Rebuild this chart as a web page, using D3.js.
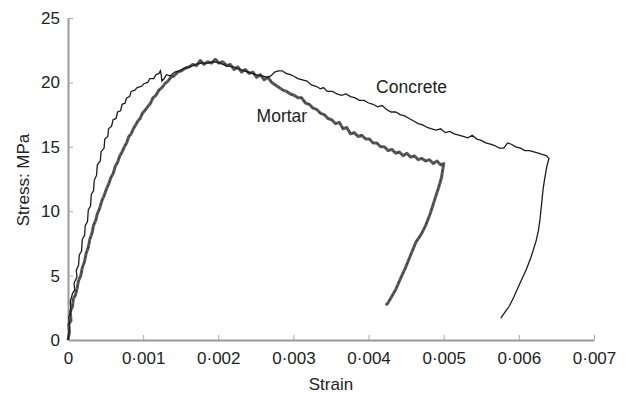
<!DOCTYPE html>
<html>
<head>
<meta charset="utf-8">
<script src="https://cdn.jsdelivr.net/npm/d3@7/dist/d3.min.js"></script>
<style>
  html, body { margin: 0; padding: 0; background: #fff; }
  svg text { font-family: "Liberation Sans", Arial, sans-serif; fill: #222; }
</style>
</head>
<body>
<svg id="chart" width="629" height="396"></svg>
<script>
// Stress–strain curves for concrete and mortar, [strain, stress (MPa)]
const concrete = [
  [0,0],[0.00002,1.0],[0.00001,1.8],[0.00004,2.2],[0.00003,3.0],[0.00006,3.6],[0.00009,3.9],
  [0.00008,4.4],[0.00012,4.9],[0.00011,5.4],[0.00014,5.8],[0.00015,6.6],[0.00018,6.9],
  [0.00019,7.8],[0.00022,8.1],[0.00023,8.9],[0.00026,9.2],[0.00027,10.1],[0.00030,10.4],
  [0.00031,11.3],[0.00034,11.6],[0.00035,12.4],[0.00038,12.8],[0.00039,13.6],[0.00043,13.9],
  [0.00044,14.6],[0.00048,14.9],[0.00049,15.6],[0.00053,15.8],[0.00054,16.4],[0.00058,16.6],
  [0.00060,17.1],[0.00064,17.2],[0.00066,17.7],[0.00070,17.8],[0.00072,18.3],[0.00076,18.4],
  [0.00078,18.8],[0.00082,18.9],[0.00084,19.3],[0.00089,19.4],[0.00092,19.6],[0.00098,19.7],
  [0.00101,19.9],[0.00106,20.0],[0.00109,20.3],[0.00114,20.3],[0.00117,20.6],[0.00121,20.7],
  [0.00123,20.9],[0.00124,20.6],[0.00125,20.1],[0.00128,20.3],[0.00131,20.6],[0.00136,20.5],
  [0.00142,20.8],[0.00148,20.9],[0.00155,21.1],[0.00162,21.2],[0.00170,21.4],[0.00178,21.5],
  [0.00186,21.5],[0.00194,21.6],[0.00202,21.5],[0.00210,21.3],[0.00220,21.2],[0.00230,21.0],
  [0.00240,20.8],[0.00250,20.6],[0.00258,20.5],[0.00265,20.4],[0.00270,20.5],[0.00275,20.8],
  [0.00280,20.9],[0.00285,20.9],[0.00290,20.7],[0.00296,20.6],[0.00300,20.5],[0.00306,20.3],
  [0.00312,20.2],[0.00318,20.1],[0.00324,19.8],[0.00330,19.7],[0.00336,19.5],[0.00340,19.6],
  [0.00345,19.3],[0.00352,19.3],[0.00358,19.1],[0.00364,19.0],[0.00370,19.1],[0.00376,18.9],
  [0.00382,18.8],[0.00388,18.6],[0.00394,18.6],[0.00400,18.4],[0.00406,18.3],[0.00412,18.1],
  [0.00418,18.2],[0.00424,17.9],[0.00430,17.7],[0.00436,17.7],[0.00442,17.5],[0.00448,17.4],
  [0.00454,17.2],[0.00460,17.0],[0.00466,16.8],[0.00472,16.7],[0.00478,16.5],[0.00484,16.4],
  [0.00490,16.3],[0.00496,16.4],[0.00502,16.1],[0.00508,16.2],[0.00514,16.0],[0.00520,15.9],
  [0.00526,15.8],[0.00532,15.7],[0.00538,15.9],[0.00544,15.6],[0.00550,15.5],[0.00556,15.3],
  [0.00562,15.2],[0.00568,15.1],[0.00574,14.9],[0.00580,14.9],[0.00585,15.3],[0.00590,15.2],
  [0.00596,15.0],[0.00602,14.9],[0.00608,14.7],[0.00614,14.7],[0.00620,14.6],[0.00626,14.5],
  [0.00632,14.4],[0.00637,14.3],[0.00640,14.1],
  // unloading branch
  [0.00637,13.4],[0.00634,12.4],[0.00632,11.6],[0.00630,10.4],[0.00628,9.3],[0.00626,8.5],
  [0.00623,7.7],[0.00616,6.4],[0.00610,5.5],[0.00603,4.6],[0.00593,3.3],[0.00587,2.6],
  [0.00582,2.2],[0.00576,1.7]
];

const mortar = [
  [0,0],[0.00002,0.6],[0.00001,1.2],[0.00004,1.5],[0.00003,2.2],[0.00006,2.6],[0.00007,3.2],
  [0.00010,3.5],[0.00012,4.0],[0.00014,4.6],[0.00017,5.0],[0.00019,5.6],[0.00022,6.1],
  [0.00024,6.7],[0.00027,7.2],[0.00029,7.8],[0.00032,8.3],[0.00034,8.9],[0.00037,9.3],
  [0.00039,9.8],[0.00042,10.2],[0.00045,10.8],[0.00048,11.2],[0.00051,11.7],[0.00054,12.1],
  [0.00057,12.6],[0.00060,12.9],[0.00063,13.5],[0.00066,13.8],[0.00069,14.3],[0.00072,14.6],
  [0.00075,15.0],[0.00078,15.3],[0.00081,15.8],[0.00084,16.0],[0.00087,16.4],[0.00090,16.7],
  [0.00093,17.0],[0.00096,17.2],[0.00099,17.6],[0.00102,17.8],[0.00106,18.1],[0.00110,18.4],
  [0.00113,18.8],[0.00117,19.0],[0.00121,19.4],[0.00125,19.6],[0.00129,19.9],[0.00133,20.1],
  [0.00137,20.4],[0.00141,20.5],[0.00146,20.8],[0.00151,20.9],[0.00156,21.1],[0.00161,21.2],
  [0.00166,21.4],[0.00171,21.3],[0.00176,21.7],[0.00181,21.4],[0.00186,21.6],[0.00191,21.5],
  [0.00196,21.8],[0.00201,21.5],[0.00206,21.6],[0.00211,21.3],[0.00216,21.4],[0.00221,21.0],
  [0.00226,21.2],[0.00231,20.8],[0.00236,21.0],[0.00241,20.7],[0.00246,20.8],[0.00251,20.4],
  [0.00256,20.6],[0.00261,20.2],[0.00266,20.4],[0.00271,20.0],[0.00276,19.8],[0.00281,19.6],
  [0.00286,19.4],[0.00291,19.3],[0.00296,19.1],[0.00301,19.0],[0.00306,18.8],[0.00311,18.8],
  [0.00316,18.4],[0.00321,18.3],[0.00326,18.0],[0.00331,17.9],[0.00336,17.6],[0.00341,17.5],
  [0.00346,17.2],[0.00351,17.1],[0.00356,16.8],[0.00361,16.9],[0.00366,16.4],[0.00371,16.5],
  [0.00376,16.0],[0.00381,16.1],[0.00386,15.8],[0.00391,15.9],[0.00396,15.6],[0.00401,15.6],
  [0.00406,15.3],[0.00411,15.3],[0.00416,15.0],[0.00421,15.0],[0.00426,14.7],[0.00431,14.8],
  [0.00436,14.5],[0.00441,14.6],[0.00446,14.3],[0.00451,14.5],[0.00456,14.2],[0.00461,14.3],
  [0.00466,14.0],[0.00471,14.1],[0.00476,13.9],[0.00481,14.0],[0.00486,13.7],[0.00491,13.9],
  [0.00496,13.6],[0.00500,13.7],
  // unloading branch
  [0.00497,12.6],[0.00493,11.8],[0.00488,10.9],[0.00482,9.8],[0.00476,8.9],[0.00470,8.2],
  [0.00463,7.6],[0.00456,6.6],[0.00449,5.6],[0.00442,4.7],[0.00436,3.9],[0.00430,3.3],
  [0.00426,2.9],[0.00423,2.7]
];

const xTicks = [0, 0.001, 0.002, 0.003, 0.004, 0.005, 0.006, 0.007];
const yTicks = [0, 5, 10, 15, 20, 25];
const curveLabels = [
  { text: "Concrete", strain: 0.00410, stress: 19.2 },
  { text: "Mortar",   strain: 0.00251, stress: 16.9 }
];

const svg = d3.select("#chart");
const x = d3.scaleLinear().domain([0, 0.007]).range([68, 594]);
const y = d3.scaleLinear().domain([0, 25]).range([340, 18]);

const fmtStrain = d => d === 0 ? "0" : d3.format(".3f")(d).replace(".", "\u00b7");

// x axis
const gx = svg.append("g").attr("transform", `translate(0,${y(0)})`)
  .call(d3.axisBottom(x).tickValues(xTicks).tickFormat(fmtStrain).tickSizeInner(-5).tickSizeOuter(0).tickPadding(12));
gx.select(".domain").attr("stroke", "#999").attr("stroke-width", 2);
gx.selectAll(".tick line").attr("stroke", "#aaa").attr("stroke-width", 1);
gx.selectAll(".tick text").attr("font-size", 17).attr("fill", "#222");

// y axis
const gy = svg.append("g").attr("transform", `translate(${x(0)},0)`)
  .call(d3.axisLeft(y).tickValues(yTicks).tickSizeInner(-5).tickSizeOuter(0).tickPadding(8));
gy.select(".domain").attr("stroke", "#999").attr("stroke-width", 2);
gy.selectAll(".tick line").attr("stroke", "#aaa").attr("stroke-width", 1);
gy.selectAll(".tick text").attr("font-size", 17).attr("fill", "#222");

// axis titles
svg.append("text").attr("x", 331).attr("y", 390).attr("text-anchor", "middle")
  .attr("font-size", 17).text("Strain");
svg.append("text").attr("transform", "translate(29,180) rotate(-90)")
  .attr("text-anchor", "middle").attr("font-size", 17).text("Stress: MPa");

const line = d3.line().x(d => x(d[0])).y(d => y(d[1]));

// mortar: thick grey band
svg.append("path").datum(mortar).attr("d", line)
  .attr("fill", "none").attr("stroke", "#5a5a5a").attr("stroke-width", 3)
  .attr("stroke-linejoin", "round");
svg.append("path").datum(mortar).attr("d", line)
  .attr("fill", "none").attr("stroke", "#333").attr("stroke-width", 1)
  .attr("stroke-dasharray", "2,3").attr("stroke-linejoin", "round");

// concrete: thin dark line
svg.append("path").datum(concrete).attr("d", line)
  .attr("fill", "none").attr("stroke", "#1c1c1c").attr("stroke-width", 1.3)
  .attr("stroke-linejoin", "miter");

svg.selectAll("text.curve-label").data(curveLabels).enter().append("text")
  .attr("class", "curve-label")
  .attr("x", d => x(d.strain)).attr("y", d => y(d.stress))
  .attr("font-size", 17.5).text(d => d.text);
</script>
</body>
</html>
